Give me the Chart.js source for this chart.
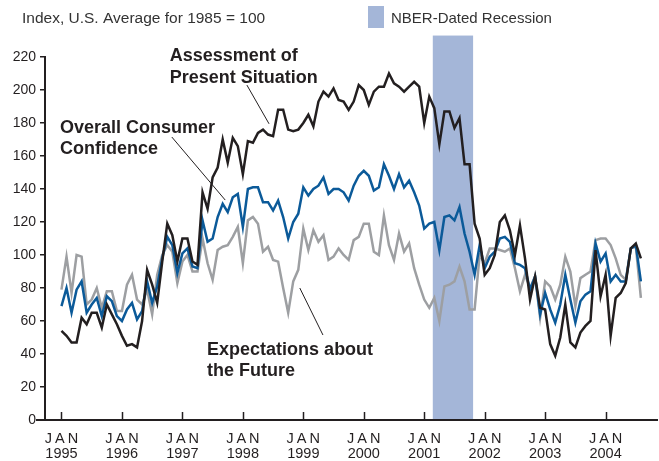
<!DOCTYPE html>
<html>
<head>
<meta charset="utf-8">
<script src="https://cdn.jsdelivr.net/npm/chart.js@4.4.0/dist/chart.umd.min.js"></script>
<style>
  html, body { margin: 0; padding: 0; background: #fff; }
</style>
</head>
<body>
<canvas id="chart" width="659" height="461"></canvas>
<script>
// monthly index values, Jan 1995 .. Aug 2004 (U.S. average for 1985 = 100)
var startYear = 1995;
var yearLabels = ['1995', '1996', '1997', '1998', '1999', '2000', '2001', '2002', '2003', '2004'];
var monthLabel = 'JAN';
var yTicks = [0, 20, 40, 60, 80, 100, 120, 140, 160, 180, 200, 220];

var presentSituation = [
  54, 51, 47, 47, 62, 58, 65, 65, 56, 70,
  64, 58, 51, 45, 46, 44, 60, 91, 82, 71,
  96, 119, 112, 96, 110, 110, 96, 94, 138, 128,
  147, 153, 170, 156, 171, 166, 149, 169, 168, 174,
  176, 173, 172, 188, 188, 176, 175, 176, 180, 185,
  178, 193, 199, 196, 201, 194, 193, 188, 193, 203,
  200, 191, 199, 202, 202, 210, 204, 202, 199, 202,
  205, 202, 180, 196, 189, 167, 187, 187, 177, 183,
  155, 155, 119, 110, 88, 92, 100, 120, 124, 115,
  100, 118, 98, 73, 87, 68, 67, 46, 39, 50,
  70, 47, 44, 53, 57, 60, 103, 75, 88, 51,
  74, 77, 83, 104, 107, 98
];
var expectations = [
  79, 99, 77, 100, 99, 70, 73, 80, 68, 78,
  78, 66, 66, 82, 88, 73, 70, 79, 64, 88,
  100, 106, 102, 83, 96, 100, 90, 90, 110, 95,
  85, 103, 105, 106, 111, 117, 95, 121, 123, 119,
  102, 105, 97, 96, 80, 65, 84, 91, 116, 103,
  115, 108, 112, 97, 99, 104, 100, 97, 109, 111,
  119, 119, 102, 100, 124, 106, 97, 113, 102, 107,
  92, 82, 73, 68, 74, 60, 81, 82, 84, 93,
  84, 67, 67, 100, 95, 104, 104, 103, 102, 104,
  92, 78, 88, 80, 87, 62, 84, 81, 73, 82,
  99, 90, 69, 86, 88, 90, 109, 110, 110, 106,
  98, 88, 85, 104, 105, 74
];
var overall = [
  69, 80, 65, 79, 84, 65, 70, 74, 63, 75,
  72, 63, 60, 67, 71, 61, 66, 84, 71, 81,
  98, 111, 106, 89, 101, 104, 93, 92, 121, 108,
  110, 123, 131, 126, 135, 137, 117, 140, 141, 141,
  132, 132, 127, 133, 123, 110, 120, 125, 141, 136,
  140, 142, 147, 137, 140, 140, 138, 133, 142, 148,
  151, 148, 139, 141, 155, 148, 140, 149, 141, 145,
  138, 130, 116, 119, 120, 103, 123, 124, 121, 129,
  113, 102, 88, 106, 92, 99, 102, 110, 111, 108,
  95, 94, 92, 79, 87, 64, 77, 67, 59, 70,
  88, 73, 59, 72, 76, 78, 107, 96, 101, 84,
  88, 84, 84, 104, 106, 84
];
// NBER recession, month index from Jan 1995 (Mar 2001 - Nov 2001)
var recession = [74, 82];

var ink = '#231f20';
var bandColor = '#a4b6d8';

function toPoints(arr) {
  return arr.map(function(v, i) { return { x: i, y: v }; });
}

// text notes, anchored in data units (month index, value)
var notes = [
  { lines: ['Assessment of', 'Present Situation'], at: [21.5, 217.5], leader: [[36.8, 203], [41.2, 179.5]] },
  { lines: ['Overall Consumer', 'Confidence'], at: [-0.3, 174], leader: [[21.9, 171.5], [32.5, 133.3]] },
  { lines: ['Expectations about', 'the Future'], at: [28.9, 39.4], leader: [[47.3, 80], [51.9, 51.5]] }
];

var decorations = {
  id: 'decorations',
  beforeDatasetsDraw: function(chart) {
    var ctx = chart.ctx, xs = chart.scales.x, ys = chart.scales.y;
    var x0 = xs.getPixelForValue(recession[0] - 0.3);
    var x1 = xs.getPixelForValue(recession[1] - 0.3);
    var top = ys.getPixelForValue(233);
    ctx.save();
    ctx.fillStyle = bandColor;
    ctx.fillRect(x0, top, x1 - x0, ys.getPixelForValue(0) - 1 - top);
    ctx.restore();
  },
  afterDraw: function(chart) {
    var ctx = chart.ctx, xs = chart.scales.x, ys = chart.scales.y;
    var y0 = ys.getPixelForValue(0);
    ctx.save();

    // x axis runs a little past the y axis, ticks point inward
    ctx.strokeStyle = ink;
    ctx.lineWidth = 2;
    ctx.beginPath();
    ctx.moveTo(xs.left - 9, y0);
    ctx.lineTo(xs.left, y0);
    ctx.stroke();
    ctx.lineWidth = 1.5;
    yearLabels.forEach(function(yr) {
      var px = Math.round(xs.getPixelForValue((+yr - startYear) * 12)) + 0.5;
      ctx.beginPath();
      ctx.moveTo(px, y0);
      ctx.lineTo(px, y0 - 8);
      ctx.stroke();
    });

    // x labels
    ctx.fillStyle = ink;
    ctx.textAlign = 'center';
    ctx.textBaseline = 'alphabetic';
    yearLabels.forEach(function(yr) {
      var px = xs.getPixelForValue((+yr - startYear) * 12);
      ctx.font = '14.5px "Liberation Sans", Arial, sans-serif';
      ctx.letterSpacing = '3px';
      ctx.fillText(monthLabel, px + 1.5, y0 + 23);
      ctx.letterSpacing = '0px';
      ctx.fillText(yr, px, y0 + 38);
    });

    // header text and legend
    ctx.textAlign = 'left';
    ctx.textBaseline = 'middle';
    ctx.fillStyle = '#333';
    ctx.font = '15.5px "Liberation Sans", Arial, sans-serif';
    ctx.fillText('Index, U.S. Average for 1985 = 100', 22, 19);
    ctx.fillStyle = bandColor;
    ctx.fillRect(368, 6, 16, 22);
    ctx.fillStyle = '#333';
    ctx.font = '15px "Liberation Sans", Arial, sans-serif';
    ctx.fillText('NBER-Dated Recession', 391, 19);

    // series notes
    ctx.textBaseline = 'alphabetic';
    ctx.fillStyle = ink;
    ctx.font = 'bold 18px "Liberation Sans", Arial, sans-serif';
    notes.forEach(function(n) {
      var px = xs.getPixelForValue(n.at[0]);
      var py = ys.getPixelForValue(n.at[1]);
      n.lines.forEach(function(t, i) {
        ctx.fillText(t, px, py + i * 21.5);
      });
      ctx.lineWidth = 1;
      ctx.strokeStyle = ink;
      ctx.beginPath();
      ctx.moveTo(xs.getPixelForValue(n.leader[0][0]), ys.getPixelForValue(n.leader[0][1]));
      ctx.lineTo(xs.getPixelForValue(n.leader[1][0]), ys.getPixelForValue(n.leader[1][1]));
      ctx.stroke();
    });
    ctx.restore();
  }
};

new Chart(document.getElementById('chart'), {
  type: 'line',
  data: {
    datasets: [
      {
        label: 'Expectations about the Future',
        data: toPoints(expectations),
        borderColor: '#9d9fa2',
        borderWidth: 2.5,
        pointRadius: 0,
        fill: false,
        order: 3
      },
      {
        label: 'Overall Consumer Confidence',
        data: toPoints(overall),
        borderColor: '#0b5a99',
        borderWidth: 2.5,
        pointRadius: 0,
        fill: false,
        order: 2
      },
      {
        label: 'Assessment of Present Situation',
        data: toPoints(presentSituation),
        borderColor: ink,
        borderWidth: 2.5,
        pointRadius: 0,
        fill: false,
        order: 1
      }
    ]
  },
  options: {
    responsive: false,
    animation: false,
    devicePixelRatio: 1,
    layout: { padding: { top: 57, right: 2, left: 0, bottom: 0 } },
    plugins: {
      legend: { display: false },
      tooltip: { enabled: false }
    },
    scales: {
      x: {
        type: 'linear',
        min: -3.27,
        max: 118.2,
        grid: { display: false },
        border: { display: true, color: ink, width: 2 },
        ticks: { display: false },
        afterFit: function(scale) { scale.height = 41; }
      },
      y: {
        min: 0,
        max: 220,
        afterBuildTicks: function(scale) {
          scale.ticks = yTicks.map(function(v) { return { value: v }; });
        },
        grid: { drawOnChartArea: false, drawTicks: true, tickLength: 5, color: ink, lineWidth: 1.5 },
        border: { display: true, color: ink, width: 2 },
        ticks: {
          color: ink,
          padding: 4,
          font: { family: '"Liberation Sans", Arial, sans-serif', size: 14 }
        },
        afterFit: function(scale) { scale.width = 45; }
      }
    }
  },
  plugins: [decorations]
});
</script>
</body>
</html>
